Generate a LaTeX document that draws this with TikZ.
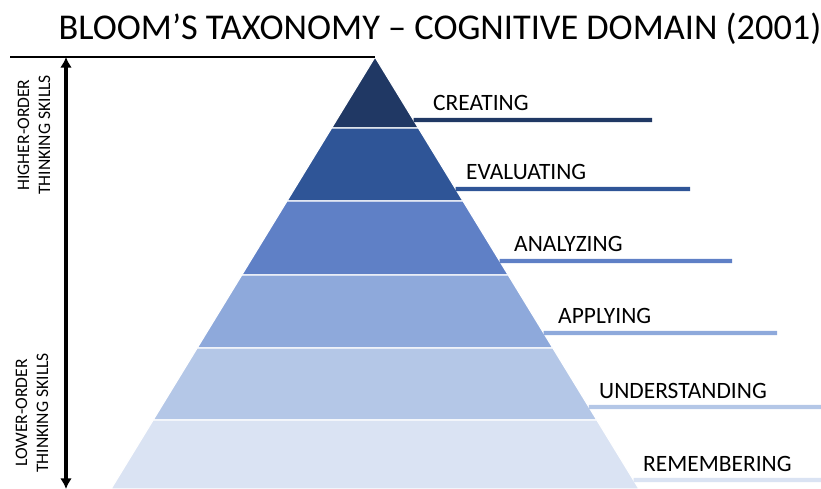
\documentclass[tikz,border=0pt]{standalone}
\usepackage{fontspec}
\setmainfont{Carlito}
\usetikzlibrary{calc,arrows.meta}

\definecolor{bcreate}{HTML}{203864}
\definecolor{beval}{HTML}{2F5597}
\definecolor{banalyze}{HTML}{5F80C6}
\definecolor{bapply}{HTML}{8EA9DB}
\definecolor{bunder}{HTML}{B4C7E7}
\definecolor{bremember}{HTML}{DAE3F3}

\begin{document}
\begin{tikzpicture}[x=0.03cm,y=-0.03cm]
  \tikzset{band/.style={draw=white,line width=1pt},
    level/.style={line width=3.6pt},
    levellabel/.style={anchor=base west,inner sep=0pt,font=\fontsize{20}{24}\selectfont},
    sidelabel/.style={rotate=90,align=center,font=\fontsize{15}{18}\selectfont}}

  \useasboundingbox (0,0) rectangle (821,489);
  \clip (0,0) rectangle (821,489);

  \coordinate (apex) at (375,57);
  \coordinate (bl) at (111,489);
  \coordinate (br) at (639,489);

  \node[anchor=base,font=\fontsize{31}{36}\selectfont] (title) at (440,40) {BLOOM'S TAXONOMY -- COGNITIVE DOMAIN (2001)};

  % pyramid bands, top to bottom
  \foreach \ya/\yb/\col in {57/128/bcreate,128/201/beval,201/275/banalyze,275/348/bapply,348/420/bunder,420/489/bremember}{
    \path[fill=\col,band] ($(apex)!{(\ya-57)/432}!(bl)$) -- ($(apex)!{(\yb-57)/432}!(bl)$)
      -- ($(apex)!{(\yb-57)/432}!(br)$) -- ($(apex)!{(\ya-57)/432}!(br)$) -- cycle;
  }

  % level lines and names
  \foreach \n/\yl/\xl/\xe/\col/\txt in {cr/120/433/652/bcreate/CREATING,ev/189/466/690/beval/EVALUATING,an/261/514/732/banalyze/ANALYZING,ap/333/558/777/bapply/APPLYING,un/407/599/830/bunder/UNDERSTANDING,re/480/643/870/bremember/REMEMBERING}{
    \coordinate (\n-start) at ($(apex)!{(\yl-57)/432}!(br)$);
    \coordinate (\n-end) at (\xe,\yl);
    \draw[level,\col] (\n-start) -- (\n-end);
    \node[levellabel] (\n) at (\xl,{\yl-9}) {\txt};
  }

  \coordinate (topl) at (10,57);
  \draw[line width=2.3pt] (topl) -- (apex);
  \coordinate (hi) at (66,57);
  \coordinate (lo) at (66,489);
  \draw[line width=2.6pt,{Latex[length=9pt,width=10pt]}-{Latex[length=9pt,width=10pt]}] (hi) -- (lo);

  \node[sidelabel] (higher) at (34,135) {HIGHER-ORDER\\THINKING SKILLS};
  \node[sidelabel] (lower) at (32,413) {LOWER-ORDER\\THINKING SKILLS};
\end{tikzpicture}
\end{document}
